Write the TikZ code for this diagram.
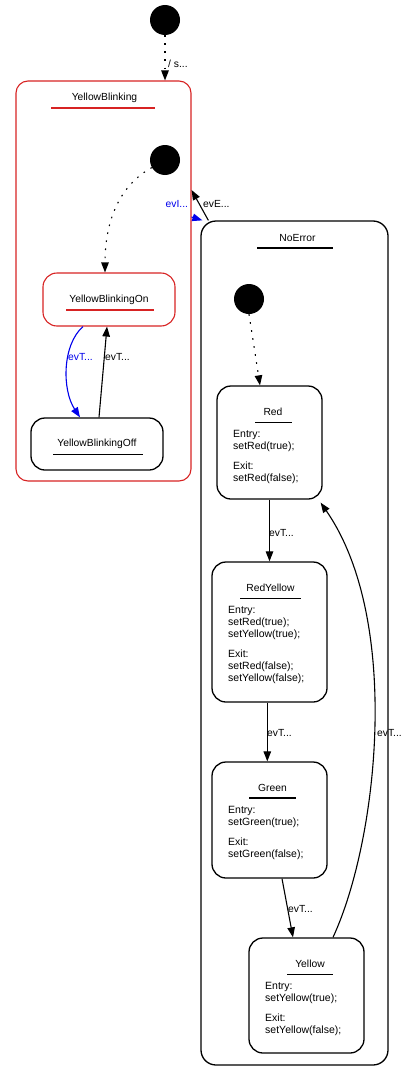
\documentclass[tikz,border=0pt]{standalone}
\usepackage{fontspec}
\setmainfont{Liberation Sans}
\usetikzlibrary{arrows.meta}
\definecolor{sred}{RGB}{215,35,35}
\definecolor{sblue}{RGB}{0,0,235}
\tikzset{
  initstate/.style={circle,fill=black,minimum size=30pt,inner sep=0pt},
  statebox/.style={draw=black,line width=1.3pt,rounded corners=14pt,inner sep=0pt},
  redbox/.style={statebox,draw=sred,line width=1.1pt},
  txt/.style={inner sep=0pt,anchor=base west,font=\fontsize{10.5}{12}\selectfont},
  ttl/.style={inner sep=0pt,anchor=base,font=\fontsize{10.3}{12}\selectfont},
  uline/.style={line width=1.3pt},
  tr/.style={line width=1.1pt,-{Triangle[length=10pt,width=7.5pt]}},
  dtr/.style={tr,dash pattern=on 1.6pt off 6.5pt},
  lbl/.style={txt,font=\fontsize{10.3}{12}\selectfont}
}
\begin{document}
\begin{tikzpicture}[x=1pt,y=-1pt]
\useasboundingbox (0,0) rectangle (405,1081);
% top initial
\node[initstate] (i1) at (165,20) {};
% YellowBlinking
\node[redbox,rounded corners=12pt,minimum width=175pt,minimum height=400pt] (yb) at (103.5,281) {};
\node[ttl] (ybt) at (104.5,100) {YellowBlinking};
\draw[uline,draw=sred] (51,108) -- (155,108);
\node[initstate] (i2) at (165,160) {};
\node[redbox,minimum width=132pt,minimum height=53pt] (ybon) at (109,299.5) {};
\node[ttl] (ybont) at (109,302) {YellowBlinkingOn};
\draw[uline,draw=sred] (66,310) -- (154,310);
\node[statebox,minimum width=132pt,minimum height=52pt] (yboff) at (97,444) {};
\node[ttl] (ybofft) at (97,446) {YellowBlinkingOff};
\draw[uline] (53,454.5) -- (143,454.5);
% NoError
\node[statebox,rounded corners=15pt,minimum width=187pt,minimum height=844pt] (ne) at (294.5,643) {};
\node[ttl] (net) at (297.5,241.5) {NoError};
\draw[uline] (257,248) -- (333,248);
\node[initstate] (i3) at (249,299) {};
% Red
\node[statebox,minimum width=105pt,minimum height=113pt] (red) at (269.5,442.5) {};
\node[ttl] (redt) at (273,415) {Red};
\draw[uline] (255,422.3) -- (292,422.3);
\node[txt] (red1) at (233,437) {Entry:};
\node[txt] (red2) at (233,449) {setRed(true);};
\node[txt] (red3) at (233,469) {Exit:};
\node[txt] (red4) at (233,481) {setRed(false);};
% RedYellow
\node[statebox,minimum width=115pt,minimum height=140pt] (ry) at (269.5,632) {};
\node[ttl] (ryt) at (270.5,591) {RedYellow};
\draw[uline] (240,598.3) -- (301,598.3);
\node[txt] (ry1) at (228,613) {Entry:};
\node[txt] (ry2) at (228,625) {setRed(true);};
\node[txt] (ry3) at (228,637) {setYellow(true);};
\node[txt] (ry4) at (228,657) {Exit:};
\node[txt] (ry5) at (228,669) {setRed(false);};
\node[txt] (ry6) at (228,681) {setYellow(false);};
% Green
\node[statebox,minimum width=115pt,minimum height=116pt] (green) at (269.5,820) {};
\node[ttl] (greent) at (272.5,791.5) {Green};
\draw[uline] (249,798) -- (296,798);
\node[txt] (g1) at (228,813) {Entry:};
\node[txt] (g2) at (228,825) {setGreen(true);};
\node[txt] (g3) at (228,845) {Exit:};
\node[txt] (g4) at (228,857) {setGreen(false);};
% Yellow
\node[statebox,minimum width=115pt,minimum height=115pt] (yellow) at (306.5,995.5) {};
\node[ttl] (yellowt) at (310,967) {Yellow};
\draw[uline] (287,974.3) -- (333,974.3);
\node[txt] (y1) at (265,989) {Entry:};
\node[txt] (y2) at (265,1001) {setYellow(true);};
\node[txt] (y3) at (265,1021) {Exit:};
\node[txt] (y4) at (265,1033) {setYellow(false);};
% connectors
\draw[dtr] (i1.south) -- (i1.south |- yb.north);
\node[lbl] (l1) at (168,67) {/ s...};
\draw[dtr] (i2.210) .. controls (120,185) and (105,220) .. ([xshift=-4pt]ybon.north);
\draw[tr,draw=sblue,-{Triangle[length=10pt,width=7.5pt,fill=sblue]}] ([xshift=-26pt]ybon.south) .. controls (62,345) and (62,390) .. ([xshift=-17pt]yboff.north);
\node[lbl,text=sblue] (l2) at (68,360) {evT...};
\draw[tr] ([xshift=2pt]yboff.north) -- ([xshift=-2pt]ybon.south);
\node[lbl] (l3) at (105,360) {evT...};
\draw[tr] ([xshift=8pt]ne.north west) -- ([yshift=91pt]yb.east);
\node[lbl] (l4) at (203,207) {evE...};
\draw[tr,draw=sblue,-{Triangle[length=10pt,width=7.5pt,fill=sblue]}] ([yshift=64pt]yb.east) -- ([xshift=2pt]ne.north west);
\node[lbl,text=sblue] (l5) at (165.5,207) {evI...};
\draw[dtr] (i3.south) -- ([xshift=-9.5pt]red.north);
\draw[tr] (red.south) -- (ry.north);
\node[lbl] (l6) at (269,536) {evT...};
\draw[tr] ([xshift=-2.2pt]ry.south) -- ([xshift=-2.2pt]green.north);
\node[lbl] (l7) at (267,736) {evT...};
\draw[tr] ([xshift=12.5pt]green.south) -- ([xshift=-13.5pt]yellow.north);
\node[lbl] (l8) at (288,912) {evT...};
\draw[tr] ([xshift=26.5pt]yellow.north) .. controls (378,840) and (402,620) .. ([xshift=-2pt,yshift=-3pt]red.south east);
\node[lbl] (l9) at (377,736) {evT...};
\end{tikzpicture}
\end{document}
